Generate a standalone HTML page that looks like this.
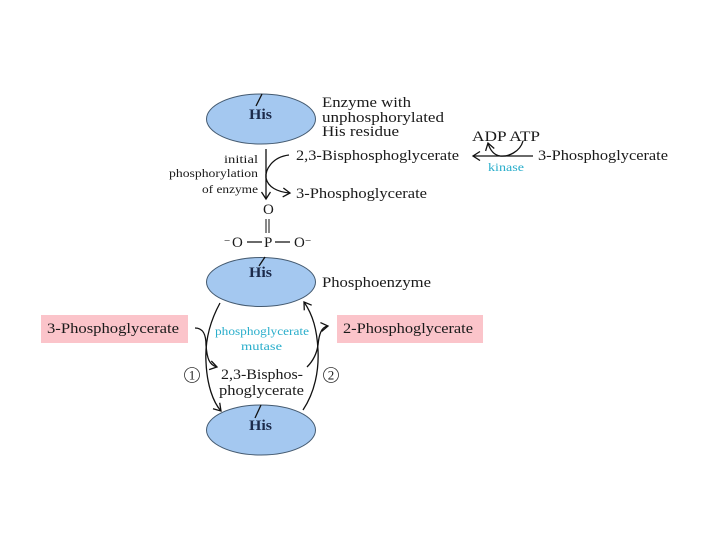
<!DOCTYPE html>
<html><head><meta charset="utf-8"><style>
html,body{margin:0;padding:0;background:#fff}
svg{display:block}
text{font-family:"Liberation Serif",serif;fill:#1a1a1a}
</style></head><body>
<svg width="720" height="540" viewBox="0 0 720 540" xmlns="http://www.w3.org/2000/svg">
<defs>
<marker id="a" markerWidth="12" markerHeight="12" refX="8" refY="5" orient="auto" markerUnits="userSpaceOnUse"><path d="M1 0.5L8 5L1 9.5" fill="none" stroke="#111" stroke-width="1.3"/></marker>
</defs>
<rect x="41" y="315" width="147" height="28" fill="#fbc4ca"/>
<rect x="337" y="315" width="146" height="28" fill="#fbc4ca"/>
<g fill="#a4c8f0" stroke="#445a70" stroke-width="1">
<ellipse cx="261" cy="119" rx="54.5" ry="25"/>
<ellipse cx="261" cy="282" rx="54.5" ry="24.5"/>
<ellipse cx="261" cy="430" rx="54.5" ry="25"/>
</g>
<g fill="none" stroke="#111" stroke-width="1.3">
<path d="M262 94L256 106"/>
<path d="M265 257L259 266"/>
<path d="M261 405L255 418"/>
<path d="M266 149V199" marker-end="url(#a)"/>
<path d="M289 155C272 157 265 170 266 178C268 187 277 192 290 193" marker-end="url(#a)"/>
<path d="M533 156H473" marker-end="url(#a)"/>
<path d="M523 141C520 152 508 157 500 156C494 155 490 150 488 143" marker-end="url(#a)"/>
<path d="M266 219V233M269 219V233" stroke-width="1"/>
<path d="M247 242H262M275 242H290" stroke-width="1.3"/>
<path d="M220 303C208 325 205 345 206 362C207 385 213 402 221 411" marker-end="url(#a)"/>
<path d="M195 328C204 328 206 336 206 345C207 358 209 365 217 367" marker-end="url(#a)"/>
<path d="M303 410C315 392 319 370 318 350C317 330 313 315 304 302" marker-end="url(#a)"/>
<path d="M307 367C314 360 317 352 318 345C319 335 321 327 328 326" marker-end="url(#a)"/>
</g>
<g font-size="15">
<text x="322" y="107" textLength="89" lengthAdjust="spacingAndGlyphs">Enzyme with</text>
<text x="322" y="122" textLength="122" lengthAdjust="spacingAndGlyphs">unphosphorylated</text>
<text x="322" y="136" textLength="77" lengthAdjust="spacingAndGlyphs">His residue</text>
<text x="296" y="160" textLength="163" lengthAdjust="spacingAndGlyphs">2,3-Bisphosphoglycerate</text>
<text x="296" y="198" textLength="131" lengthAdjust="spacingAndGlyphs">3-Phosphoglycerate</text>
<text x="538" y="160" textLength="130" lengthAdjust="spacingAndGlyphs">3-Phosphoglycerate</text>
<text x="322" y="287" textLength="109" lengthAdjust="spacingAndGlyphs">Phosphoenzyme</text>
<text x="47" y="333" textLength="132" lengthAdjust="spacingAndGlyphs">3-Phosphoglycerate</text>
<text x="343" y="333" textLength="130" lengthAdjust="spacingAndGlyphs">2-Phosphoglycerate</text>
<text x="472" y="141" textLength="68" lengthAdjust="spacingAndGlyphs">ADP ATP</text>
</g>
<g font-size="15" text-anchor="middle" font-weight="bold">
<text x="260.5" y="119" style="fill:#1c2a4a" textLength="23" lengthAdjust="spacingAndGlyphs">His</text>
<text x="260.5" y="277" style="fill:#1c2a4a" textLength="23" lengthAdjust="spacingAndGlyphs">His</text>
<text x="260.5" y="430" style="fill:#1c2a4a" textLength="23" lengthAdjust="spacingAndGlyphs">His</text>
</g>
<g font-size="12">
<text x="224" y="163" textLength="34" lengthAdjust="spacingAndGlyphs">initial</text>
<text x="169" y="177" textLength="89" lengthAdjust="spacingAndGlyphs">phosphorylation</text>
<text x="202" y="193" textLength="56" lengthAdjust="spacingAndGlyphs">of enzyme</text>
</g>
<g font-size="15">
<text x="263" y="214">O</text>
<text x="264" y="247">P</text>
<text x="232" y="247">O</text>
<text x="294" y="247">O</text>
<text x="221" y="379" textLength="82" lengthAdjust="spacingAndGlyphs">2,3-Bisphos-</text>
<text x="219" y="395" textLength="85" lengthAdjust="spacingAndGlyphs">phoglycerate</text>
</g>
<text x="224" y="244" font-size="11">−</text>
<text x="305" y="244" font-size="11">−</text>
<g font-size="12">
<text x="215" y="335" style="fill:#2aaecb" textLength="94" lengthAdjust="spacingAndGlyphs">phosphoglycerate</text>
<text x="241" y="350" style="fill:#2aaecb" textLength="41" lengthAdjust="spacingAndGlyphs">mutase</text>
<text x="488" y="171" style="fill:#2aaecb" textLength="36" lengthAdjust="spacingAndGlyphs">kinase</text>
</g>
<g fill="#fff" stroke="#333" stroke-width="0.8">
<circle cx="192" cy="375" r="7.5"/>
<circle cx="331" cy="375" r="7.5"/>
</g>
<g font-size="13" text-anchor="middle">
<text x="192" y="379.5">1</text>
<text x="331" y="379.5">2</text>
</g>
</svg>
</body></html>
